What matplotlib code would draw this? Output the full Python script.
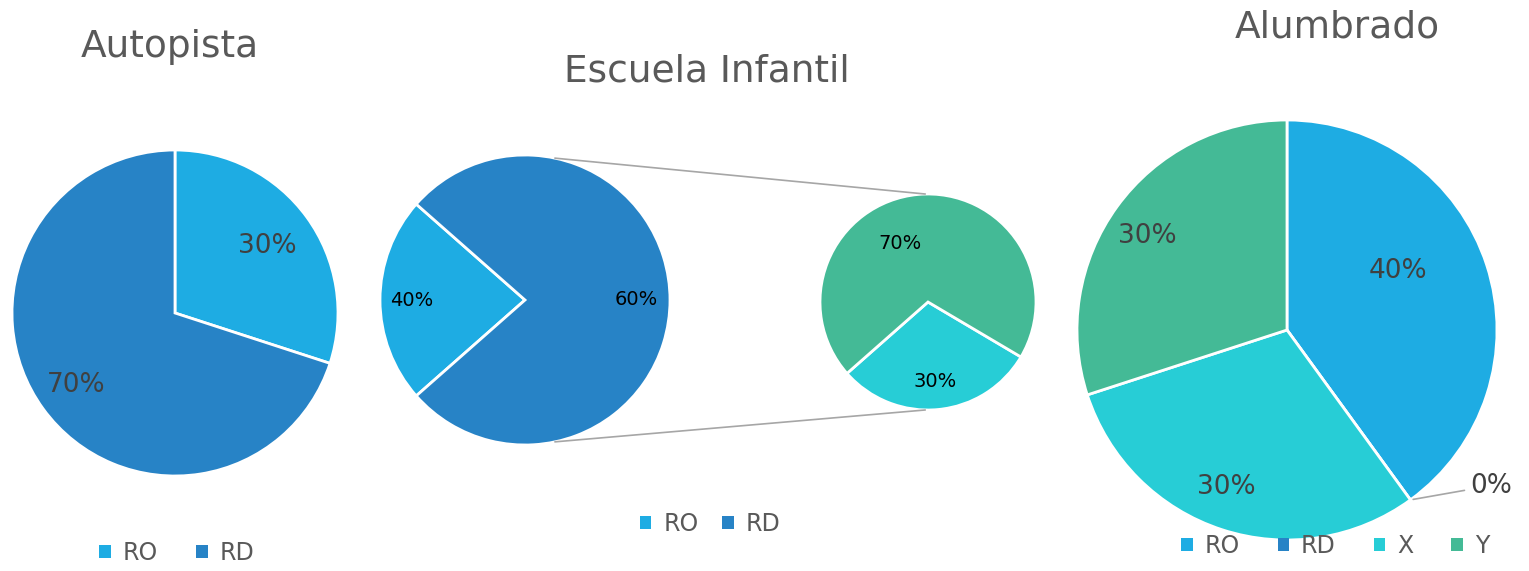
import numpy as np
import matplotlib.pyplot as plt
from matplotlib.patches import Patch

# colours
c_ro = "#1EACE3"
c_rd = "#2783C6"
c_x = "#27CDD6"
c_y = "#44BA96"

# Autopista
auto_names = ["RO", "RD"]
auto_vals = [30, 70]

# Escuela Infantil (pie of pie)
esc_names = ["RO", "RD"]
esc_labels = ["40%", "60%"]
esc_main_share = [23, 77]      # wedge sizes as drawn
esc_sub_vals = [30, 70]        # X, Y

# Alumbrado
alu_names = ["RO", "RD", "X", "Y"]
alu_vals = [40, 0, 30, 30]

W, H = 1529, 571
fig = plt.figure(figsize=(W / 100, H / 100), dpi=100)
ax = fig.add_axes([0, 0, 1, 1])
ax.set_xlim(0, W)
ax.set_ylim(H, 0)
ax.set_aspect("equal")
ax.axis("off")

wp = dict(edgecolor="white", linewidth=2)

# y axis is inverted, so angles are given as seen and flipped here
def pie(vals, center, radius, start, clockwise, colors):
    wedges = ax.pie(vals, center=center, radius=radius, colors=colors,
                    startangle=-start, counterclock=clockwise,
                    wedgeprops=wp, frame=True)[0]
    return wedges

def put_labels(wedges, center, radius, dists, labels, fs, tc, offs=None):
    if offs is None:
        offs = [0] * len(wedges)
    for w, d, lab, o in zip(wedges, dists, labels, offs):
        if lab is None:
            continue
        mid = np.deg2rad((w.theta1 + w.theta2) / 2 - o)
        x = center[0] + radius * d * np.cos(mid)
        y = center[1] + radius * d * np.sin(mid)
        ax.text(x, y, lab, ha="center", va="center", fontsize=fs, color=tc)

# Autopista
cA, rA = (175, 313), 163
wA = pie(auto_vals, cA, rA, 90, True, [c_ro, c_rd])
put_labels(wA, cA, rA, [0.7, 0.75], [f"{v}%" for v in auto_vals], 19, "#404040")

# Escuela main
cE, rE = (525, 300), 145
wE = pie(esc_main_share, cE, rE, 180 - esc_main_share[0] * 1.8, False, [c_ro, c_rd])
put_labels(wE, cE, rE, [0.78, 0.77], esc_labels, 14, "black")

# Escuela secondary
cS, rS = (928, 302), 108
start_s = 180 + esc_main_share[0] * 1.8
wS = pie(esc_sub_vals, cS, rS, start_s, False, [c_x, c_y])
put_labels(wS, cS, rS, [0.74, 0.6], [f"{v}%" for v in esc_sub_vals], 14, "black",
           offs=[0, 20])

# connector lines
a = np.deg2rad(78)
ax.plot([cE[0] + rE * np.cos(a), cS[0] - 3], [cE[1] - rE * np.sin(a), cS[1] - rS],
        color="#A6A6A6", lw=1.2)
ax.plot([cE[0] + rE * np.cos(a), cS[0] - 3], [cE[1] + rE * np.sin(a), cS[1] + rS],
        color="#A6A6A6", lw=1.2)

# Alumbrado
cL, rL = (1287, 330), 210
wL = pie(alu_vals, cL, rL, 90, True, [c_ro, c_rd, c_x, c_y])
put_labels(wL, cL, rL, [0.6, 0, 0.8, 0.8],
           [f"{v}%" if v else None for v in alu_vals], 19, "#404040",
           offs=[10, 0, -3, 2])
# zero slice label
z = np.deg2rad(wL[1].theta1)
ax.annotate(f"{alu_vals[1]}%", xy=(cL[0] + rL * np.cos(z), cL[1] + rL * np.sin(z)),
            xytext=(1470, 486), ha="left", va="center", fontsize=19, color="#404040",
            arrowprops=dict(arrowstyle="-", color="#A6A6A6", lw=1.2,
                            connectionstyle="angle,angleA=0,angleB=10"))

ax.set_xlim(0, W)
ax.set_ylim(H, 0)

# titles
tkw = dict(ha="center", va="center", fontsize=27, color="#595959")
ax.text(170, 47, "Autopista", **tkw)
ax.text(707, 72, "Escuela Infantil", **tkw)
ax.text(1337, 27, "Alumbrado", **tkw)

# legends
def legend(names, colors, cx, cy, colsp):
    h = [Patch(facecolor=c, edgecolor="none", label=n) for n, c in zip(names, colors)]
    fig.legend(handles=h, loc="center", bbox_to_anchor=(cx / W, 1 - cy / H),
               ncol=len(names), frameon=False, fontsize=17,
               handlelength=0.5, handleheight=0.5, handletextpad=0.5,
               columnspacing=colsp, labelcolor="#595959")

legend(auto_names, [c_ro, c_rd], 177, 553, 1.6)
legend(esc_names, [c_ro, c_rd], 710, 524, 1.0)
legend(alu_names, [c_ro, c_rd, c_x, c_y], 1335, 546, 1.6)

fig.savefig("out.png", dpi=100)
